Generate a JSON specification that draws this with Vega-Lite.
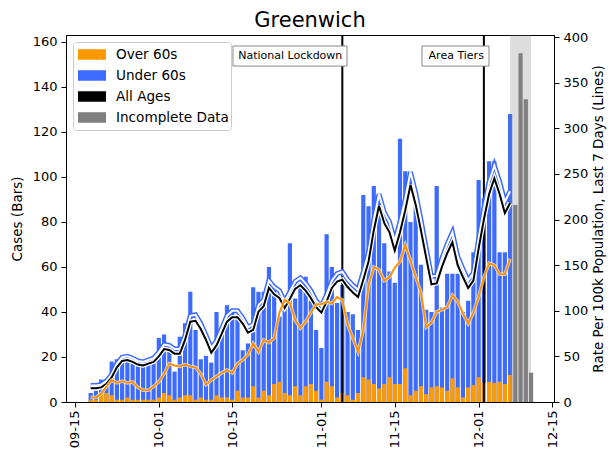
{
  "$schema": "https://vega.github.io/schema/vega-lite/v6.json",
  "width": 488,
  "height": 367,
  "autosize": {"type": "none"},
  "padding": {"left": 66, "top": 35, "right": 56, "bottom": 51},
  "title": {"text": "Greenwich", "fontSize": 21, "font": "DejaVu Sans", "fontWeight": "normal", "color": "black", "offset": 0},
  "config": {
    "font": "DejaVu Sans",
    "view": {"stroke": "black", "strokeWidth": 1},
    "axis": {"grid": false, "domainColor": "black", "tickColor": "black", "labelColor": "black", "titleColor": "black", "labelFontSize": 13, "titleFontSize": 13.5, "titleFontWeight": "normal", "tickSize": 5, "labelFont": "DejaVu Sans", "titleFont": "DejaVu Sans"},
    "legend": {"orient": "none", "legendX": 7, "legendY": 7, "direction": "vertical", "labelFontSize": 13.6, "labelColor": "black", "labelFont": "DejaVu Sans", "symbolType": "M-1,-0.375H1V0.375H-1Z", "symbolSize": 784, "symbolStrokeWidth": 0, "symbolOpacity": 1, "symbolOffset": 3, "labelOffset": 10, "clipHeight": 21, "rowPadding": 0, "padding": 2, "strokeColor": "#cccccc", "fillColor": "white", "cornerRadius": 3}
  },
  "datasets": {
    "daily": [
      {"date": "2020-09-18", "total": 4, "over60": 1, "all": 15, "u60": 18, "o60": 5},
      {"date": "2020-09-19", "total": 5, "over60": 1, "all": 15, "u60": 18, "o60": 5},
      {"date": "2020-09-20", "total": 10, "over60": 4, "all": 16, "u60": 19, "o60": 9},
      {"date": "2020-09-21", "total": 7, "over60": 4, "all": 20, "u60": 23, "o60": 17},
      {"date": "2020-09-22", "total": 18, "over60": 3, "all": 27, "u60": 30, "o60": 24},
      {"date": "2020-09-23", "total": 19, "over60": 1, "all": 38, "u60": 42, "o60": 21},
      {"date": "2020-09-24", "total": 20.5, "over60": 1, "all": 45, "u60": 49, "o60": 23},
      {"date": "2020-09-25", "total": 20, "over60": 2, "all": 46, "u60": 50, "o60": 21},
      {"date": "2020-09-26", "total": 17, "over60": 1, "all": 44, "u60": 48, "o60": 22},
      {"date": "2020-09-27", "total": 16, "over60": 1, "all": 41, "u60": 45, "o60": 16},
      {"date": "2020-09-28", "total": 16.5, "over60": 1, "all": 40, "u60": 44, "o60": 13},
      {"date": "2020-09-29", "total": 17.5, "over60": 1, "all": 42, "u60": 46, "o60": 13},
      {"date": "2020-09-30", "total": 17.5, "over60": 1, "all": 44, "u60": 48, "o60": 17},
      {"date": "2020-10-01", "total": 28.5, "over60": 2, "all": 50, "u60": 54.5, "o60": 22},
      {"date": "2020-10-02", "total": 30, "over60": 4, "all": 58, "u60": 63, "o60": 31},
      {"date": "2020-10-03", "total": 25, "over60": 3, "all": 57, "u60": 62, "o60": 42},
      {"date": "2020-10-04", "total": 13.5, "over60": 1, "all": 53, "u60": 58, "o60": 40},
      {"date": "2020-10-05", "total": 29, "over60": 2, "all": 53, "u60": 58, "o60": 39},
      {"date": "2020-10-06", "total": 35, "over60": 3, "all": 68, "u60": 73, "o60": 41},
      {"date": "2020-10-07", "total": 49, "over60": 3, "all": 88, "u60": 94.5, "o60": 39},
      {"date": "2020-10-08", "total": 32, "over60": 1, "all": 89, "u60": 95.5, "o60": 38},
      {"date": "2020-10-09", "total": 19, "over60": 2, "all": 80, "u60": 86, "o60": 31},
      {"date": "2020-10-10", "total": 20.5, "over60": 1, "all": 68, "u60": 73, "o60": 19},
      {"date": "2020-10-11", "total": 17.5, "over60": 1, "all": 54, "u60": 59, "o60": 24},
      {"date": "2020-10-12", "total": 40, "over60": 3, "all": 62, "u60": 67, "o60": 28},
      {"date": "2020-10-13", "total": 32, "over60": 2, "all": 75, "u60": 81, "o60": 32},
      {"date": "2020-10-14", "total": 43, "over60": 2, "all": 88, "u60": 94.5, "o60": 35},
      {"date": "2020-10-15", "total": 41, "over60": 1, "all": 93, "u60": 100, "o60": 32},
      {"date": "2020-10-16", "total": 37.5, "over60": 5, "all": 93, "u60": 100, "o60": 42},
      {"date": "2020-10-17", "total": 23, "over60": 2, "all": 86, "u60": 92, "o60": 46},
      {"date": "2020-10-18", "total": 26, "over60": 2, "all": 76, "u60": 82, "o60": 52},
      {"date": "2020-10-19", "total": 51, "over60": 7, "all": 79, "u60": 85, "o60": 64},
      {"date": "2020-10-20", "total": 49, "over60": 2, "all": 99, "u60": 106, "o60": 55},
      {"date": "2020-10-21", "total": 49, "over60": 5, "all": 105, "u60": 112, "o60": 68},
      {"date": "2020-10-22", "total": 60, "over60": 3, "all": 125, "u60": 133, "o60": 65},
      {"date": "2020-10-23", "total": 50.5, "over60": 8, "all": 118, "u60": 126, "o60": 70},
      {"date": "2020-10-24", "total": 38, "over60": 9, "all": 114, "u60": 122, "o60": 98},
      {"date": "2020-10-25", "total": 43, "over60": 4, "all": 103, "u60": 110, "o60": 112},
      {"date": "2020-10-26", "total": 70.5, "over60": 3, "all": 113, "u60": 121, "o60": 108},
      {"date": "2020-10-27", "total": 46, "over60": 7, "all": 124, "u60": 132, "o60": 90},
      {"date": "2020-10-28", "total": 52.7, "over60": 3, "all": 128, "u60": 136, "o60": 81},
      {"date": "2020-10-29", "total": 55.7, "over60": 7, "all": 122, "u60": 130, "o60": 88},
      {"date": "2020-10-30", "total": 45, "over60": 8, "all": 114, "u60": 122, "o60": 98},
      {"date": "2020-10-31", "total": 32, "over60": 5, "all": 104, "u60": 111, "o60": 107},
      {"date": "2020-11-01", "total": 24, "over60": 1, "all": 98, "u60": 105, "o60": 107},
      {"date": "2020-11-02", "total": 74.5, "over60": 9, "all": 110, "u60": 117.5, "o60": 110},
      {"date": "2020-11-03", "total": 60, "over60": 7, "all": 125, "u60": 133, "o60": 108},
      {"date": "2020-11-04", "total": 44, "over60": 2, "all": 132, "u60": 140.6, "o60": 115},
      {"date": "2020-11-05", "total": 52, "over60": 4, "all": 134, "u60": 142.7, "o60": 112},
      {"date": "2020-11-06", "total": 40, "over60": 3, "all": 126, "u60": 134, "o60": 85},
      {"date": "2020-11-07", "total": 39, "over60": 1, "all": 120, "u60": 128, "o60": 70},
      {"date": "2020-11-08", "total": 32, "over60": 4, "all": 115, "u60": 123, "o60": 55},
      {"date": "2020-11-09", "total": 92, "over60": 11, "all": 134, "u60": 142.7, "o60": 79},
      {"date": "2020-11-10", "total": 87, "over60": 10, "all": 154, "u60": 163.7, "o60": 128},
      {"date": "2020-11-11", "total": 96, "over60": 8, "all": 188, "u60": 199.4, "o60": 148},
      {"date": "2020-11-12", "total": 84, "over60": 6, "all": 215, "u60": 227.8, "o60": 145},
      {"date": "2020-11-13", "total": 70.5, "over60": 8, "all": 196, "u60": 207.8, "o60": 133},
      {"date": "2020-11-14", "total": 58, "over60": 11, "all": 186, "u60": 197.3, "o60": 137},
      {"date": "2020-11-15", "total": 53, "over60": 8, "all": 166, "u60": 176.3, "o60": 147},
      {"date": "2020-11-16", "total": 117, "over60": 8, "all": 186, "u60": 197.3, "o60": 154},
      {"date": "2020-11-17", "total": 102.5, "over60": 15, "all": 210, "u60": 222.5, "o60": 172},
      {"date": "2020-11-18", "total": 80, "over60": 3, "all": 238, "u60": 252, "o60": 155},
      {"date": "2020-11-19", "total": 87, "over60": 5, "all": 216, "u60": 228.8, "o60": 137},
      {"date": "2020-11-20", "total": 61, "over60": 7, "all": 188, "u60": 199.4, "o60": 120},
      {"date": "2020-11-21", "total": 41, "over60": 3.5, "all": 158, "u60": 168, "o60": 82},
      {"date": "2020-11-22", "total": 40, "over60": 6.5, "all": 129, "u60": 137.5, "o60": 87},
      {"date": "2020-11-23", "total": 96, "over60": 7, "all": 130, "u60": 138.5, "o60": 99},
      {"date": "2020-11-24", "total": 42, "over60": 6.5, "all": 148, "u60": 157.4, "o60": 101},
      {"date": "2020-11-25", "total": 57, "over60": 5, "all": 163, "u60": 173, "o60": 104},
      {"date": "2020-11-26", "total": 57, "over60": 10.5, "all": 175, "u60": 185.8, "o60": 117},
      {"date": "2020-11-27", "total": 57, "over60": 6.5, "all": 150, "u60": 159.5, "o60": 110},
      {"date": "2020-11-28", "total": 40, "over60": 2, "all": 137, "u60": 145.9, "o60": 97},
      {"date": "2020-11-29", "total": 45, "over60": 6.5, "all": 125, "u60": 133, "o60": 86},
      {"date": "2020-11-30", "total": 66.5, "over60": 7.5, "all": 133, "u60": 141.7, "o60": 98},
      {"date": "2020-12-01", "total": 98.7, "over60": 11, "all": 168, "u60": 178.4, "o60": 115},
      {"date": "2020-12-02", "total": 90.5, "over60": 8.5, "all": 200, "u60": 212, "o60": 137},
      {"date": "2020-12-03", "total": 107, "over60": 9, "all": 228, "u60": 241.4, "o60": 152},
      {"date": "2020-12-04", "total": 107, "over60": 8.5, "all": 245, "u60": 259, "o60": 150},
      {"date": "2020-12-05", "total": 66.5, "over60": 9, "all": 228, "u60": 241.4, "o60": 140},
      {"date": "2020-12-06", "total": 66.5, "over60": 8, "all": 207, "u60": 219.4, "o60": 140},
      {"date": "2020-12-07", "total": 128, "over60": 12, "all": 218, "u60": 231, "o60": 157}
    ],
    "incomplete": [
      {"date": "2020-12-08", "total": 87.5},
      {"date": "2020-12-09", "total": 155},
      {"date": "2020-12-10", "total": 134.5},
      {"date": "2020-12-11", "total": 13}
    ],
    "span": [
      {"date": "2020-12-07", "date_end": "2020-12-11T00:00:00Z"}
    ],
    "events": [
      {"date": "2020-11-05", "label": "National Lockdown", "box_start": "2020-10-15T03:20:00Z", "box_end": "2020-11-05T21:20:00Z", "box_top": 158.2, "box_bottom": 149.3, "text_y": 153.8},
      {"date": "2020-12-02", "label": "Area Tiers", "box_start": "2020-11-20T04:50:00Z", "box_end": "2020-12-02T23:30:00Z", "box_top": 158.2, "box_bottom": 149.3, "text_y": 153.8}
    ]
  },
  "encoding": {
    "x": {
      "field": "date",
      "type": "temporal",
      "scale": {"type": "utc", "nice": false, "padding": 0, "domain": [{"year": 2020, "month": 9, "date": 13, "hours": 7, "utc": true}, {"year": 2020, "month": 12, "date": 15, "hours": 9, "utc": true}]},
      "axis": {
        "title": null,
        "format": "%m-%d",
        "labelAngle": -90,
        "labelPadding": 3,
        "values": [
          {"year": 2020, "month": 9, "date": 15, "utc": true},
          {"year": 2020, "month": 10, "date": 1, "utc": true},
          {"year": 2020, "month": 10, "date": 15, "utc": true},
          {"year": 2020, "month": 11, "date": 1, "utc": true},
          {"year": 2020, "month": 11, "date": 15, "utc": true},
          {"year": 2020, "month": 12, "date": 1, "utc": true},
          {"year": 2020, "month": 12, "date": 15, "utc": true}
        ]
      }
    }
  },
  "layer": [
    {
      "layer": [
        {
          "data": {"name": "daily"},
          "mark": {"type": "bar", "size": 4.2},
          "encoding": {
            "y": {"field": "total", "type": "quantitative", "scale": {"domain": [0, 163.1], "nice": false}, "axis": {"orient": "left", "title": "Cases (Bars)", "values": [0, 20, 40, 60, 80, 100, 120, 140, 160], "titlePadding": 8, "labelPadding": 4}},
            "color": {"datum": "Under 60s", "type": "nominal", "scale": {"domain": ["Over 60s", "Under 60s", "All Ages", "Incomplete Data"], "range": ["#ff9900", "#3d6bff", "#000000", "#808080"]}, "legend": {"title": null}}
          }
        },
        {
          "data": {"name": "daily"},
          "mark": {"type": "bar", "size": 4.2},
          "encoding": {
            "y": {"field": "over60", "type": "quantitative"},
            "color": {"datum": "Over 60s", "type": "nominal"}
          }
        },
        {
          "data": {"name": "incomplete"},
          "mark": {"type": "bar", "size": 4.2},
          "encoding": {
            "y": {"field": "total", "type": "quantitative"},
            "color": {"datum": "Incomplete Data", "type": "nominal"}
          }
        },
        {
          "data": {"name": "span"},
          "mark": {"type": "rect", "color": "#808080", "opacity": 0.27},
          "encoding": {"x2": {"field": "date_end"}}
        },
        {
          "data": {"name": "events"},
          "mark": {"type": "rule", "color": "black", "strokeWidth": 2},
          "encoding": {}
        },
        {
          "data": {"name": "events"},
          "mark": {"type": "rect", "fill": "white", "stroke": "#888888", "strokeWidth": 1},
          "encoding": {
            "x": {"field": "box_start", "type": "temporal"},
            "x2": {"field": "box_end"},
            "y": {"field": "box_top", "type": "quantitative"},
            "y2": {"field": "box_bottom"}
          }
        },
        {
          "data": {"name": "events"},
          "mark": {"type": "text", "align": "right", "baseline": "middle", "fontSize": 11, "font": "DejaVu Sans", "color": "black"},
          "encoding": {
            "y": {"field": "text_y", "type": "quantitative"},
            "text": {"field": "label"}
          }
        }
      ]
    },
    {
      "data": {"name": "daily"},
      "layer": [
        {
          "mark": {"type": "line", "color": "#3d6bff", "strokeWidth": 5},
          "encoding": {"y": {"field": "u60", "type": "quantitative", "scale": {"domain": [0, 402.2], "nice": false}, "axis": {"orient": "right", "title": "Rate Per 100k Population, Last 7 Days (Lines)", "values": [0, 50, 100, 150, 200, 250, 300, 350, 400], "titleAngle": -90, "titleBaseline": "top", "titlePadding": 4, "labelPadding": 4}}}
        },
        {
          "mark": {"type": "line", "color": "white", "strokeWidth": 2},
          "encoding": {"y": {"field": "u60", "type": "quantitative"}}
        },
        {
          "mark": {"type": "line", "color": "white", "strokeWidth": 4.5},
          "encoding": {"y": {"field": "all", "type": "quantitative"}}
        },
        {
          "mark": {"type": "line", "color": "black", "strokeWidth": 2},
          "encoding": {"y": {"field": "all", "type": "quantitative"}}
        },
        {
          "mark": {"type": "line", "color": "white", "strokeWidth": 3.5, "opacity": 0.7},
          "encoding": {"y": {"field": "o60", "type": "quantitative"}}
        },
        {
          "mark": {"type": "line", "color": "#ff9000", "strokeWidth": 2},
          "encoding": {"y": {"field": "o60", "type": "quantitative"}}
        }
      ]
    }
  ],
  "resolve": {"scale": {"y": "independent"}}
}
